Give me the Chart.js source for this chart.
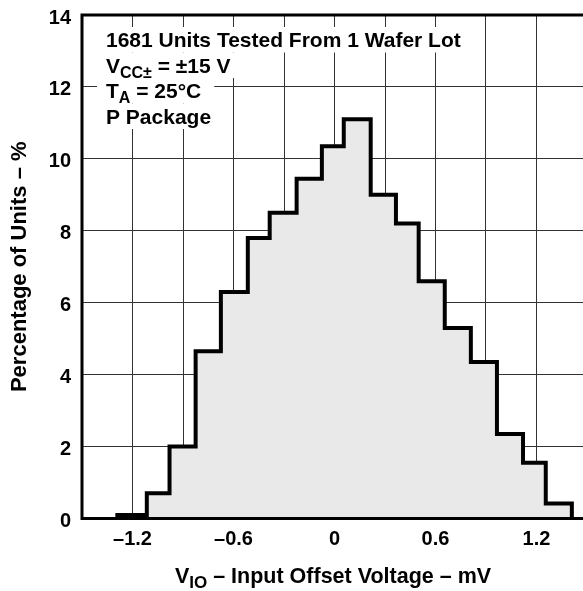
<!DOCTYPE html>
<html>
<head>
<meta charset="utf-8">
<script src="https://cdn.jsdelivr.net/npm/chart.js@4.4.1/dist/chart.umd.min.js"></script>
<style>
  html, body { margin: 0; padding: 0; background: #fff; overflow: hidden; }
  #histo { display: block; }
</style>
</head>
<body>
<canvas id="histo" width="587" height="591" style="width:587px;height:591px"></canvas>
<script>
// bin edges (mV) and percentage of units in each bin
var binEdges = [-1.29, -1.115, -0.98, -0.825, -0.675, -0.515, -0.385, -0.225, -0.075,
                0.055, 0.215, 0.365, 0.5, 0.655, 0.81, 0.965, 1.12, 1.255, 1.41];
var percentUnits = [0.1, 0.7, 2.0, 4.65, 6.3, 7.8, 8.5, 9.45, 10.35,
                    11.1, 9.0, 8.2, 6.6, 5.3, 4.35, 2.35, 1.55, 0.42];

var xTickValues = [-1.5, -1.2, -0.9, -0.6, -0.3, 0, 0.3, 0.6, 0.9, 1.2, 1.5];
var xTickLabels = ['', '\u20131.2', '', '\u20130.6', '', '0', '', '0.6', '', '1.2', ''];
var yTickValues = [0, 2, 4, 6, 8, 10, 12, 14];

// notes in the upper left corner, [text, subscript?] pieces
var noteLines = [
  [['1681 Units Tested From 1 Wafer Lot', false]],
  [['V', false], ['CC\u00b1', true], [' = \u00b115 V', false]],
  [['T', false], ['A', true], [' = 25\u00b0C', false]],
  [['P Package', false]]
];
var xTitle = [['V', false], ['IO', true], [' \u2013 Input Offset Voltage \u2013 mV', false]];
var yTitle = 'Percentage of Units \u2013 %';

var fontFam = '"Liberation Sans", Arial, Helvetica, sans-serif';

// build the step outline from the arrays
var stepPoints = [{x: binEdges[0], y: 0}];
for (var i = 0; i < percentUnits.length; i++)
{
  stepPoints.push({x: binEdges[i], y: percentUnits[i]});
}
stepPoints.push({x: binEdges[binEdges.length - 1], y: 0});

function richWidth(ctx, parts, size)
{
  var w = 0;
  for (var i = 0; i < parts.length; i++)
  {
    ctx.font = 'bold ' + (parts[i][1] ? Math.round(size * 0.78) : size) + 'px ' + fontFam;
    w += ctx.measureText(parts[i][0]).width;
  }
  return w;
}

function drawRich(ctx, parts, x, y, size)
{
  for (var i = 0; i < parts.length; i++)
  {
    var sub = parts[i][1];
    ctx.font = 'bold ' + (sub ? Math.round(size * 0.78) : size) + 'px ' + fontFam;
    ctx.fillText(parts[i][0], x, sub ? y + 5 : y);
    x += ctx.measureText(parts[i][0]).width;
  }
}

var extras = {
  id: 'extras',
  afterDatasetsDraw: function(chart)
  {
    var ctx = chart.ctx;
    var a = chart.chartArea;
    ctx.save();
    // notes with white background over the grid
    ctx.textBaseline = 'alphabetic';
    ctx.textAlign = 'left';
    var noteX = 106, noteY = 47, noteStep = 25.5;
    for (var i = 0; i < noteLines.length; i++)
    {
      var w = richWidth(ctx, noteLines[i], 21);
      ctx.fillStyle = '#fff';
      ctx.fillRect(noteX - 9, noteY + i * noteStep - 20, w + 22, noteStep);
    }
    ctx.fillStyle = '#000';
    for (var j = 0; j < noteLines.length; j++)
    {
      drawRich(ctx, noteLines[j], noteX, noteY + j * noteStep, 21);
    }
    // frame
    ctx.strokeStyle = '#000';
    ctx.lineWidth = 3;
    ctx.strokeRect(a.left, a.top, a.right - a.left, a.bottom - a.top);
    ctx.restore();
  },
  afterDraw: function(chart)
  {
    var ctx = chart.ctx;
    ctx.save();
    ctx.fillStyle = '#000';
    ctx.textBaseline = 'alphabetic';
    ctx.textAlign = 'left';
    var w = richWidth(ctx, xTitle, 21.5);
    drawRich(ctx, xTitle, 333 - w / 2, 583, 21.5);
    ctx.restore();
  }
};

var ctx = document.getElementById('histo').getContext('2d');
window.myHisto = new Chart(ctx, {
  type: 'line',
  data: {
    datasets: [
      {
        label: 'Percentage of Units',
        data: stepPoints,
        stepped: 'before',
        borderColor: '#000',
        borderWidth: 4,
        borderJoinStyle: 'miter',
        backgroundColor: '#e9e9e9',
        fill: 'origin',
        pointRadius: 0,
        tension: 0
      }
    ]
  },
  options: {
    responsive: false,
    animation: false,
    devicePixelRatio: 1,
    layout: { padding: { top: 15, right: 0, left: 0, bottom: 0 } },
    plugins: {
      legend: { display: false },
      tooltip: { enabled: false },
      title: { display: false }
    },
    scales: {
      x: {
        type: 'linear',
        min: -1.5,
        max: 1.5,
        afterBuildTicks: function(scale)
        {
          scale.ticks = xTickValues.map(function(v) { return {value: v}; });
        },
        afterFit: function(scale)
        {
          scale.height = 72.5;
          scale.paddingLeft = 0;
          scale.paddingRight = 0;
        },
        ticks: {
          autoSkip: false,
          maxRotation: 0,
          padding: 9,
          color: '#000',
          font: { family: fontFam, size: 20, weight: 'bold' },
          callback: function(v, idx) { return xTickLabels[idx]; }
        },
        grid: { color: '#333', lineWidth: 1, drawTicks: false },
        border: { display: false }
      },
      y: {
        min: 0,
        max: 14,
        afterBuildTicks: function(scale)
        {
          scale.ticks = yTickValues.map(function(v) { return {value: v}; });
        },
        afterFit: function(scale)
        {
          scale.width = 82;
          scale.paddingTop = 0;
          scale.paddingBottom = 0;
        },
        ticks: {
          padding: 11,
          labelOffset: 3,
          color: '#000',
          font: { family: fontFam, size: 20, weight: 'bold' }
        },
        grid: { color: '#333', lineWidth: 1, drawTicks: false },
        border: { display: false },
        title: {
          display: true,
          text: yTitle,
          color: '#000',
          padding: { top: 7, bottom: 0 },
          font: { family: fontFam, size: 22, weight: 'bold' }
        }
      }
    }
  },
  plugins: [extras]
});
</script>
</body>
</html>
